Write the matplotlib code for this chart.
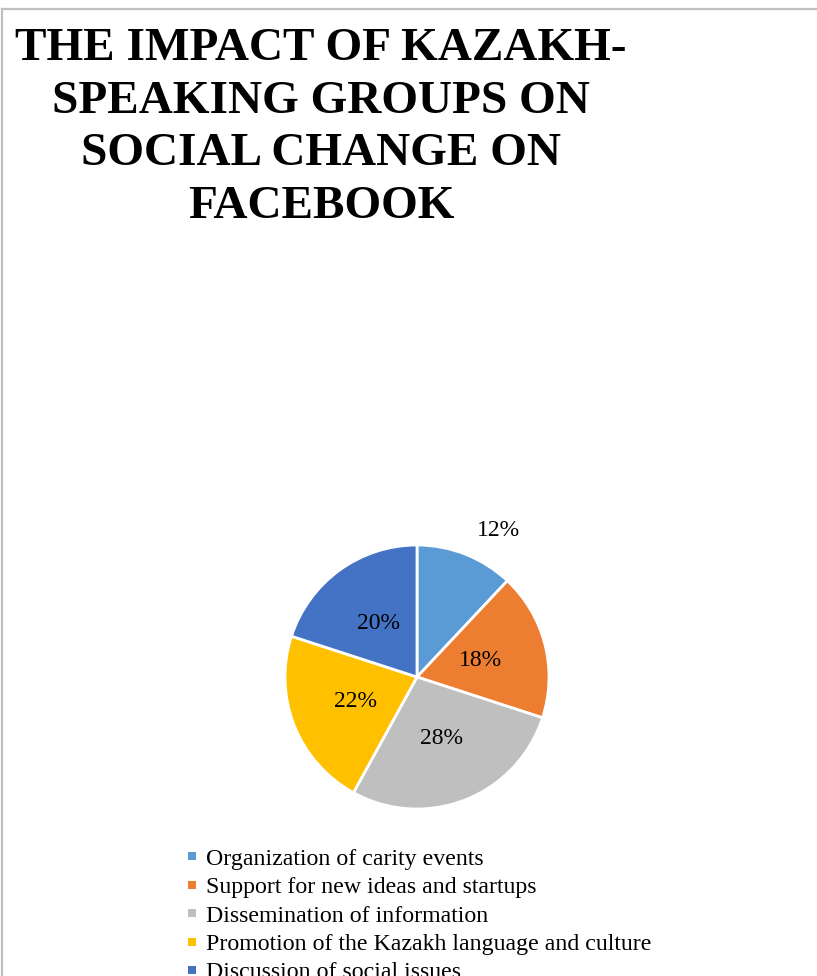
import numpy as np
import matplotlib
matplotlib.use("Agg")
import matplotlib.pyplot as plt
from matplotlib.lines import Line2D

title = "THE IMPACT OF KAZAKH-\nSPEAKING GROUPS ON\nSOCIAL CHANGE ON\nFACEBOOK"
categories = [
    "Organization of carity events",
    "Support for new ideas and startups",
    "Dissemination of information",
    "Promotion of the Kazakh language and culture",
    "Discussion of social issues",
]
values = [12, 18, 28, 22, 20]
colors = ["#5B9BD5", "#ED7D31", "#BFBFBF", "#FFC000", "#4472C4"]

W, H = 817, 976
fig = plt.figure(figsize=(W / 100, H / 100), dpi=100)
fig.patch.set_facecolor("white")

# border lines (top and left)
fig.add_artist(Line2D([2 / W, 1.0], [1 - 8.5 / H, 1 - 8.5 / H], transform=fig.transFigure,
                      color="#BFBFBF", linewidth=1.6))
fig.add_artist(Line2D([2 / W, 2 / W], [0.0, 1 - 8.5 / H], transform=fig.transFigure,
                      color="#BFBFBF", linewidth=1.6))

# title
fig.text(321 / W, 1 - 28 / H, title, ha="center", va="top", multialignment="center",
         fontsize=34, fontweight="bold", family="Liberation Serif", linespacing=1.33,
         color="black")

# pie
cx, cy, r = 417, 677, 132
ax = fig.add_axes([(cx - r) / W, (H - cy - r) / H, 2 * r / W, 2 * r / H])
wedges, texts, autotexts = ax.pie(
    values, colors=colors, startangle=90, counterclock=False,
    autopct=lambda p: f"{p:.0f}%", pctdistance=0.5,
    wedgeprops=dict(edgecolor="white", linewidth=2.0),
    textprops=dict(fontsize=17, family="Liberation Serif", color="black"),
)
ax.set_xlim(-1, 1)
ax.set_ylim(-1, 1)
ax.axis("off")

# first label placed outside the pie (best fit)
ang = np.deg2rad(61)
autotexts[0].set_position((1.27 * np.cos(ang), 1.27 * np.sin(ang)))

# legend
handles = [Line2D([], [], marker="s", linestyle="", markersize=5.5,
                  markerfacecolor=c, markeredgewidth=0) for c in colors]
leg = fig.legend(handles, categories, loc="upper left",
                 bbox_to_anchor=(186 / W, 1 - 848 / H), frameon=False,
                 prop=dict(family="Liberation Serif", size=17.2),
                 handlelength=0.5, handletextpad=0.35, labelspacing=0.28,
                 borderpad=0, borderaxespad=0)

fig.savefig("out.png", dpi=100, facecolor="white")
